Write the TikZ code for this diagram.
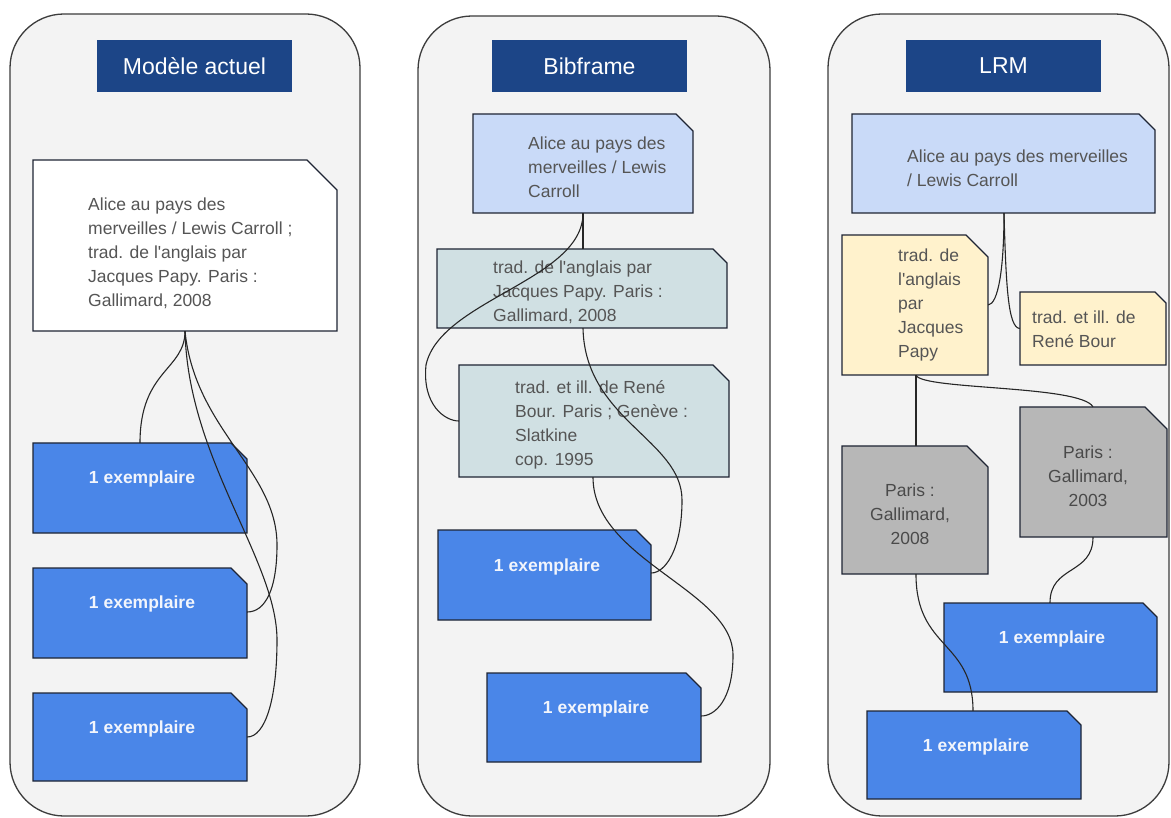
\documentclass[tikz,border=0pt]{standalone}
\usepackage{fontspec}
\setmainfont{Liberation Sans}[Ligatures=TeXOff]
\usetikzlibrary{fit}
\definecolor{panelfill}{HTML}{F3F3F3}
\definecolor{paneldraw}{HTML}{3C3C3C}
\definecolor{titleblue}{HTML}{1C4587}
\definecolor{itemblue}{HTML}{4A86E8}
\definecolor{workblue}{HTML}{C9DAF8}
\definecolor{exprcyan}{HTML}{D0E0E3}
\definecolor{expryellow}{HTML}{FFF2CC}
\definecolor{manifgray}{HTML}{B7B7B7}
\definecolor{bodytext}{HTML}{555555}
\definecolor{graytext}{HTML}{4A4A4A}
\definecolor{itemtext}{HTML}{F2F5FC}
\definecolor{boxedge}{HTML}{1E2433}
\tikzset{
  panel/.style={fill=panelfill, draw=paneldraw, line width=1.3pt, rounded corners=54pt, inner sep=0pt},
  titlebox/.style={fill=titleblue, text=white, inner sep=0pt, font=\fontsize{23}{28}\selectfont},
  edgebox/.style={draw=boxedge, line width=1.1pt},
  whitebox/.style={edgebox, fill=white},
  workbox/.style={edgebox, fill=workblue},
  cyanbox/.style={edgebox, fill=exprcyan},
  yellowbox/.style={edgebox, fill=expryellow},
  graybox/.style={edgebox, fill=manifgray},
  itembox/.style={edgebox, fill=itemblue},
  bodytxt/.style={inner sep=0pt, align=left, anchor=west, text=bodytext, font=\fontsize{17.5}{24}\selectfont},
  graytxt/.style={inner sep=0pt, align=center, text=graytext, font=\fontsize{17.5}{24}\selectfont},
  itemtxt/.style={inner sep=0pt, text=itemtext, font=\fontsize{17.5}{22}\selectfont\bfseries},
  link/.style={draw=black!85, line width=1.1pt},
}
% name, style, x1, y1, x2, y2, cut
\newcommand{\cutbox}[7]{%
  \path[#2] (#3,#4) -- (#5-#7,#4) -- (#5,#4+#7) -- (#5,#6) -- (#3,#6) -- cycle;
  \node[fit={(#3,#4) (#5,#6)}, inner sep=0pt] (#1) {};
}
\begin{document}
\begin{tikzpicture}[x=1pt, y=-1pt]
\useasboundingbox (0,0) rectangle (1171,818);
% panels
\node[panel, fit={(10,14) (360,816)}] (p1) {};
\node[panel, fit={(418,16) (770,816)}] (p2) {};
\node[panel, fit={(828,14) (1169,816)}] (p3) {};
% titles
\node[titlebox, minimum width=195pt, minimum height=52pt] (h1) at (194.5,66) {Modèle actuel};
\node[titlebox, minimum width=195pt, minimum height=52pt] (h2) at (589.5,66) {Bibframe};
\node[titlebox, minimum width=195pt, minimum height=52pt] (h3) at (1003.5,66) {LRM};

% ---------- panel 1
\cutbox{w1}{whitebox}{33}{160}{337}{331}{30}
\node[bodytxt] (w1t) at (88,253) {Alice au pays des\\merveilles / Lewis Carroll ;\\trad. de l'anglais par\\Jacques Papy. Paris :\\Gallimard, 2008};
\cutbox{a1}{itembox}{33}{443}{247}{533}{16}
\cutbox{a2}{itembox}{33}{568}{247}{658}{16}
\cutbox{a3}{itembox}{33}{693}{247}{781}{16}
\node[itemtxt] (a1t) at (142,479) {1 exemplaire};
\node[itemtxt] (a2t) at (142,604) {1 exemplaire};
\node[itemtxt] (a3t) at (142,729) {1 exemplaire};

% ---------- panel 2
\cutbox{w2}{workbox}{473}{114}{693}{213}{17}
\node[bodytxt] (w2t) at (528,167) {Alice au pays des\\merveilles / Lewis\\Carroll};
\cutbox{e21}{cyanbox}{437}{249}{727}{328}{14}
\node[bodytxt] (e21t) at (493,292) {trad. de l'anglais par\\Jacques Papy. Paris :\\Gallimard, 2008};
\cutbox{e22}{cyanbox}{459}{365}{729}{477}{16}
\node[bodytxt] (e22t) at (515,425) {trad. et ill. de René\\Bour. Paris ; Genève :\\Slatkine\\cop. 1995};
\cutbox{b21}{itembox}{438}{530}{651}{620}{15}
\cutbox{b22}{itembox}{487}{673}{701}{762}{15}
\node[itemtxt] (b21t) at (547,567) {1 exemplaire};
\node[itemtxt] (b22t) at (596,709) {1 exemplaire};

% ---------- panel 3
\cutbox{w3}{workbox}{852}{114}{1155}{213}{16}
\node[bodytxt] (w3t) at (907,168) {Alice au pays des merveilles\\/ Lewis Carroll};
\cutbox{e31}{yellowbox}{842}{235}{988}{375}{22}
\node[bodytxt] (e31t) at (898,305) {trad. de\\l'anglais\\par\\Jacques\\Papy};
\cutbox{e32}{yellowbox}{1020}{292}{1166}{365}{11}
\node[bodytxt] (e32t) at (1032,329) {trad. et ill. de\\René Bour};
\cutbox{m31}{graybox}{842}{446}{988}{574}{21}
\node[graytxt] (m31t) at (910,514) {Paris :\\Gallimard,\\2008};
\cutbox{m32}{graybox}{1020}{407}{1167}{537}{22}
\node[graytxt] (m32t) at (1088,476) {Paris :\\Gallimard,\\2003};
\cutbox{b31}{itembox}{944}{603}{1157}{692}{14}
\cutbox{b32}{itembox}{867}{711}{1081}{799}{14}
\node[itemtxt] (b31t) at (1052,639) {1 exemplaire};
\node[itemtxt] (b32t) at (976,747) {1 exemplaire};

% ---------- connectors panel 1
\draw[link] (w1.south -| 185,0) .. controls (185,370) and (140,370) .. (a1.north -| 140,0);
\draw[link] (w1.south -| 185,0) .. controls (195,430) and (277,470) .. (277,545)
   .. controls (277,590) and (265,612) .. (a2.east |- 0,612);
\draw[link] (w1.south -| 185,0) .. controls (188,460) and (277,560) .. (277,640)
   .. controls (277,700) and (265,737) .. (a3.east |- 0,737);

% ---------- connectors panel 2
\draw[link] (w2.south -| 583,0) -- (e21.north -| 583,0);
\draw[link] (w2.south -| 583,0) .. controls (583,280) and (440,300) .. (426,365)
   .. controls (422,405) and (445,421) .. (e22.west);
\draw[link] (e21.south -| 583,0) .. controls (585,420) and (682,440) .. (682,500)
   .. controls (682,550) and (665,573) .. (b21.east |- 0,573);
\draw[link] (e22.south -| 593,0) .. controls (593,560) and (733,590) .. (733,655)
   .. controls (733,700) and (715,716) .. (b22.east |- 0,716);

% ---------- connectors panel 3
\draw[link] (w3.south -| 1004,0) .. controls (1004,270) and (998,304) .. (e31.east |- 0,305);
\draw[link] (w3.south -| 1004,0) .. controls (1006,285) and (1008,328) .. (e32.west);
\draw[link] (e31.south -| 916,0) -- (m31.north -| 916,0);
\draw[link] (e31.south -| 916,0) .. controls (922,390) and (1080,385) .. (m32.north -| 1093,0);
\draw[link] (m31.south -| 916,0) .. controls (916,650) and (973,640) .. (b32.north -| 973,0);
\draw[link] (m32.south -| 1093,0) .. controls (1093,575) and (1050,565) .. (b31.north -| 1050,0);
\end{tikzpicture}
\end{document}
